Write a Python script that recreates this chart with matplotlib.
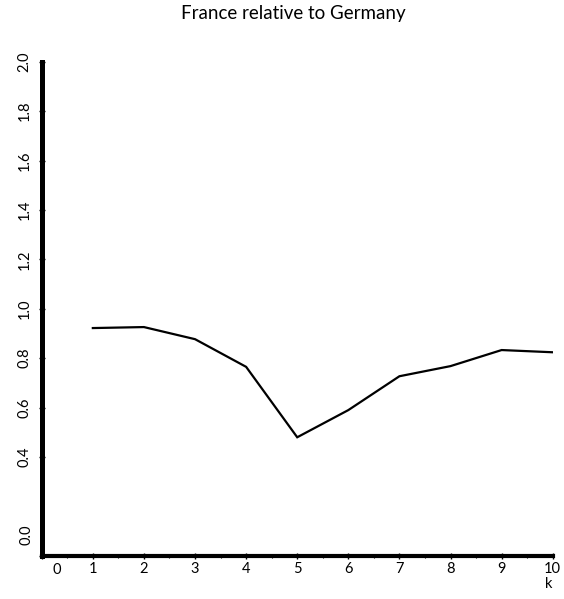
import matplotlib
matplotlib.use("Agg")
import matplotlib.pyplot as plt
from matplotlib.ticker import FixedLocator, MultipleLocator

# ratio France / Germany for each lag k
k = [1, 2, 3, 4, 5, 6, 7, 8, 9, 10]
ratio = [0.922, 0.926, 0.877, 0.765, 0.480, 0.590, 0.727, 0.768, 0.833, 0.824]

xticks = list(range(0, 11))
yticks = [0.0, 0.4, 0.6, 0.8, 1.0, 1.2, 1.4, 1.6, 1.8, 2.0]
ytick_labels = ["0.0", "0.4", "0.6", "0.8", "1.0", "1.2", "1.4", "1.6", "1.8", "2.0"]

plt.rcParams['font.family'] = ['Lato', 'DejaVu Sans']

fig = plt.figure(figsize=(5.64, 5.99), dpi=100)
ax = fig.add_axes([0.074, 0.072, 0.906, 0.825])

ax.plot(k, ratio, color='black', lw=1.6, solid_joinstyle='miter')

ax.set_xlim(0, 10)
ax.set_ylim(0, 2.0)

for side in ('top', 'right'):
    ax.spines[side].set_visible(False)
ax.spines['left'].set_linewidth(3.6)
ax.spines['bottom'].set_linewidth(3.0)
ax.spines['left'].set_capstyle('projecting')
ax.spines['bottom'].set_capstyle('projecting')

ax.xaxis.set_major_locator(FixedLocator(xticks))
ax.xaxis.set_minor_locator(MultipleLocator(0.5))
ax.yaxis.set_major_locator(FixedLocator(yticks))
ax.yaxis.set_minor_locator(MultipleLocator(0.1))
ylabels = list(ytick_labels)
ylabels[0] = ""
ax.set_yticklabels(ylabels, rotation=90, va='center')
xlabels = [str(v) for v in xticks]
xlabels[0] = ""
ax.set_xticklabels(xlabels)

ax.tick_params(axis='both', which='major', direction='inout', length=5,
               width=1.0, labelsize=10.5)
ax.tick_params(axis='both', which='minor', direction='inout', length=3,
               width=0.8)
ax.tick_params(axis='y', pad=5)
ax.tick_params(axis='x', pad=2)

# zero labels are nudged off the corner where the axes meet
ax.text(0.3, -0.014, "0", transform=ax.get_xaxis_transform(),
        ha='center', va='top', fontsize=10.5)
ax.text(-0.017, 0.085, ytick_labels[0], transform=ax.get_yaxis_transform(),
        ha='right', va='center', rotation=90, fontsize=10.5)
ax.text(9.92, -0.042, "k", transform=ax.get_xaxis_transform(),
        ha='center', va='top', fontsize=10.5)

fig.text(0.52, 0.978, "France relative to Germany", ha='center', va='center',
         fontsize=13.5)

fig.savefig("out.png", dpi=100, facecolor='white')
